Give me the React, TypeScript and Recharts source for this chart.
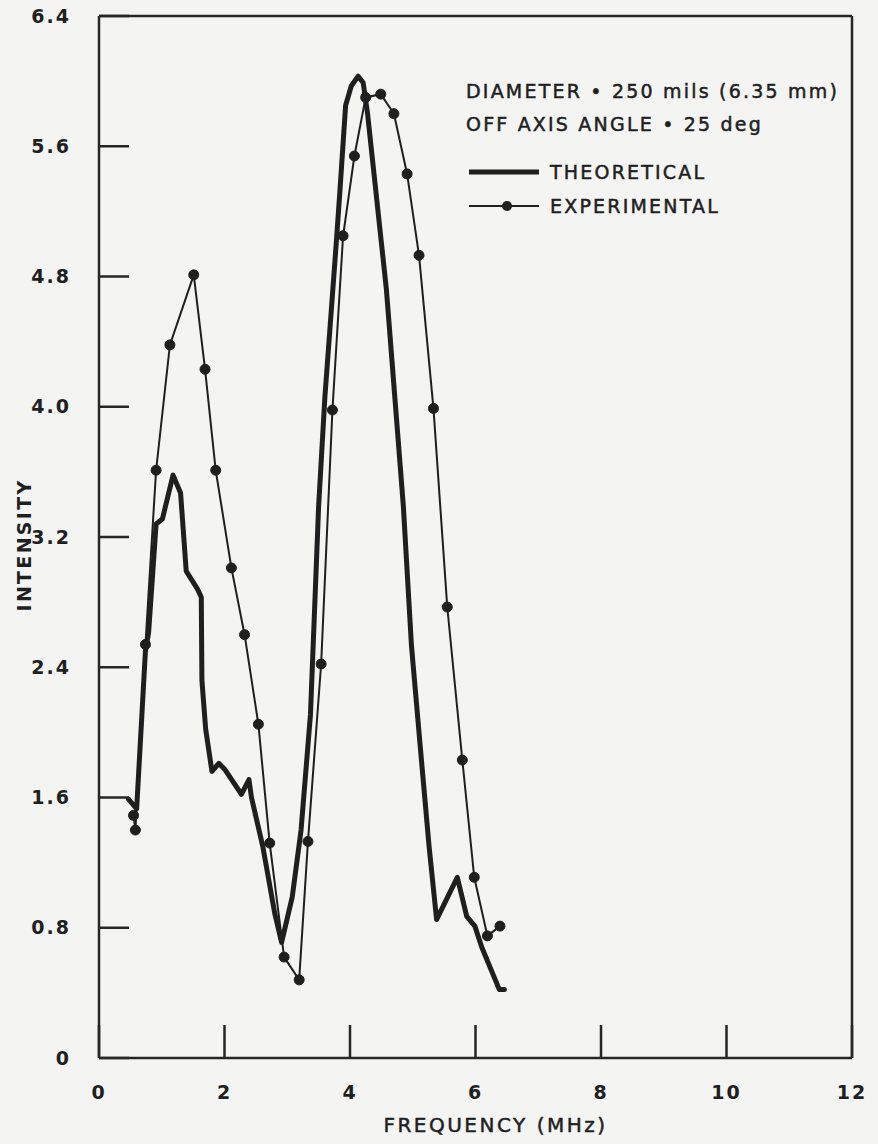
import { LineChart, Line, XAxis, YAxis, Legend } from "recharts";

const xTicks = [0, 2, 4, 6, 8, 10, 12];
const yTicks = [0, 0.8, 1.6, 2.4, 3.2, 4.0, 4.8, 5.6, 6.4];

// theoretical curve
const theoFreq = [
  0.47, 0.6, 0.74, 0.79, 0.91, 1.01, 1.18, 1.3, 1.39, 1.57, 1.63, 1.64, 1.7, 1.8,
  1.91, 2.01, 2.27, 2.39, 2.43, 2.61, 2.8, 2.91, 3.08, 3.22, 3.37, 3.5, 3.6, 3.78,
  3.84, 3.93, 4.02, 4.13, 4.21, 4.28, 4.58, 4.85, 4.98, 5.12, 5.26, 5.38, 5.71,
  5.86, 5.99, 6.1, 6.38, 6.46,
];
const theoInt = [
  1.59, 1.53, 2.5, 2.61, 3.28, 3.31, 3.58, 3.47, 2.99, 2.88, 2.83, 2.32, 2.02, 1.76,
  1.81, 1.77, 1.62, 1.71, 1.6, 1.3, 0.89, 0.71, 0.99, 1.4, 2.11, 3.39, 4.06, 5.0,
  5.33, 5.85, 5.97, 6.03, 5.99, 5.8, 4.72, 3.39, 2.53, 1.91, 1.3, 0.85, 1.11,
  0.87, 0.81, 0.68, 0.42, 0.42,
];

// measured points
const expFreq = [
  0.55, 0.58, 0.74, 0.91, 1.13, 1.51, 1.69, 1.86, 2.11, 2.32, 2.54, 2.72, 2.95, 3.19,
  3.33, 3.54, 3.72, 3.89, 4.07, 4.25, 4.49, 4.7, 4.91, 5.1, 5.33, 5.55, 5.79, 5.98,
  6.19, 6.39,
];
const expInt = [
  1.49, 1.4, 2.54, 3.61, 4.38, 4.81, 4.23, 3.61, 3.01, 2.6, 2.05, 1.32, 0.62, 0.48,
  1.33, 2.42, 3.98, 5.05, 5.54, 5.9, 5.92, 5.8, 5.43, 4.93, 3.99, 2.77, 1.83, 1.11,
  0.75, 0.81,
];

const theoData = theoFreq.map((f, i) => ({ f, v: theoInt[i] }));
const expData = expFreq.map((f, i) => ({ f, v: expInt[i] }));

const INK = "#1f1f1f";
const PAPER = "#f4f4f2";
const FONT = "'DejaVu Sans', sans-serif";

const tickStyle = { fill: INK, fontSize: 19, fontFamily: FONT, fontWeight: 700, letterSpacing: 2 };
const frame = { stroke: "#262626", strokeWidth: 2.5 };

function Notes() {
  return (
    <div
      style={{
        fontFamily: FONT,
        color: INK,
        fontSize: 19,
        letterSpacing: 2.2,
        whiteSpace: "nowrap",
        WebkitTextStroke: "0.5px #1f1f1f",
      }}
    >
      <div style={{ height: 33, lineHeight: "33px" }}>DIAMETER • 250 mils (6.35 mm)</div>
      <div style={{ height: 33, lineHeight: "33px" }}>OFF AXIS ANGLE • 25 deg</div>
      <div style={{ height: 34, marginTop: 14, display: "flex", alignItems: "center" }}>
        <svg width={84} height={12}>
          <line x1={3} y1={6} x2={73} y2={6} stroke={INK} strokeWidth={5} />
        </svg>
        <span>THEORETICAL</span>
      </div>
      <div style={{ height: 34, display: "flex", alignItems: "center" }}>
        <svg width={84} height={12}>
          <line x1={3} y1={6} x2={73} y2={6} stroke={INK} strokeWidth={2} />
          <circle cx={41} cy={6} r={5} fill={INK} />
        </svg>
        <span>EXPERIMENTAL</span>
      </div>
    </div>
  );
}

export default function App() {
  return (
    <div style={{ width: 878, height: 1144, background: PAPER }}>
      <style>{`body{margin:0;background:${PAPER};}`}</style>
      <LineChart width={878} height={1144} margin={{ top: 14, right: 24, bottom: 26, left: 39 }}>
        <XAxis
          xAxisId="b"
          dataKey="f"
          type="number"
          domain={[0, 12]}
          ticks={xTicks}
          interval={0}
          height={60}
          tickSize={-33}
          tickMargin={61}
          axisLine={frame}
          tickLine={frame}
          tick={tickStyle}
          label={{
            value: "FREQUENCY (MHz)",
            position: "bottom",
            offset: 0,
            dx: 20,
            style: {
              fill: INK,
              fontSize: 20,
              fontFamily: FONT,
              letterSpacing: 2.5,
              stroke: INK,
              strokeWidth: 0.5,
            },
          }}
        />
        <XAxis
          xAxisId="t"
          orientation="top"
          type="number"
          domain={[0, 12]}
          ticks={xTicks}
          interval={0}
          height={2}
          tickSize={-30}
          axisLine={frame}
          tickLine={frame}
          tickFormatter={() => ""}
        />
        <YAxis
          yAxisId="l"
          type="number"
          domain={[0, 6.4]}
          ticks={yTicks}
          interval={0}
          width={60}
          tickSize={-30}
          tickMargin={58}
          axisLine={frame}
          tickLine={frame}
          tick={tickStyle}
          tickFormatter={(v: number) => (v === 0 ? "0" : v.toFixed(1))}
          label={{
            value: "INTENSITY",
            angle: -90,
            position: "center",
            dx: -45,
            dy: 8,
            style: { fill: INK, fontSize: 19, fontFamily: FONT, fontWeight: 700, letterSpacing: 2.3 },
          }}
        />
        <YAxis
          yAxisId="r"
          orientation="right"
          type="number"
          domain={[0, 6.4]}
          ticks={yTicks}
          interval={0}
          width={2}
          tickSize={-32}
          axisLine={frame}
          tickLine={frame}
          tickFormatter={() => ""}
        />
        <Legend
          content={Notes}
          layout="horizontal"
          verticalAlign="middle"
          align="center"
          wrapperStyle={{ top: 75, left: 466, width: 400 }}
        />
        <Line
          xAxisId="b"
          yAxisId="l"
          data={theoData}
          dataKey="v"
          type="linear"
          stroke={INK}
          strokeWidth={5}
          strokeLinejoin="round"
          strokeLinecap="round"
          dot={false}
          isAnimationActive={false}
          name="THEORETICAL"
        />
        <Line
          xAxisId="b"
          yAxisId="l"
          data={expData}
          dataKey="v"
          type="linear"
          stroke={INK}
          strokeWidth={2}
          dot={{ r: 5, fill: INK, stroke: INK, strokeWidth: 1 }}
          isAnimationActive={false}
          name="EXPERIMENTAL"
        />
      </LineChart>
    </div>
  );
}
